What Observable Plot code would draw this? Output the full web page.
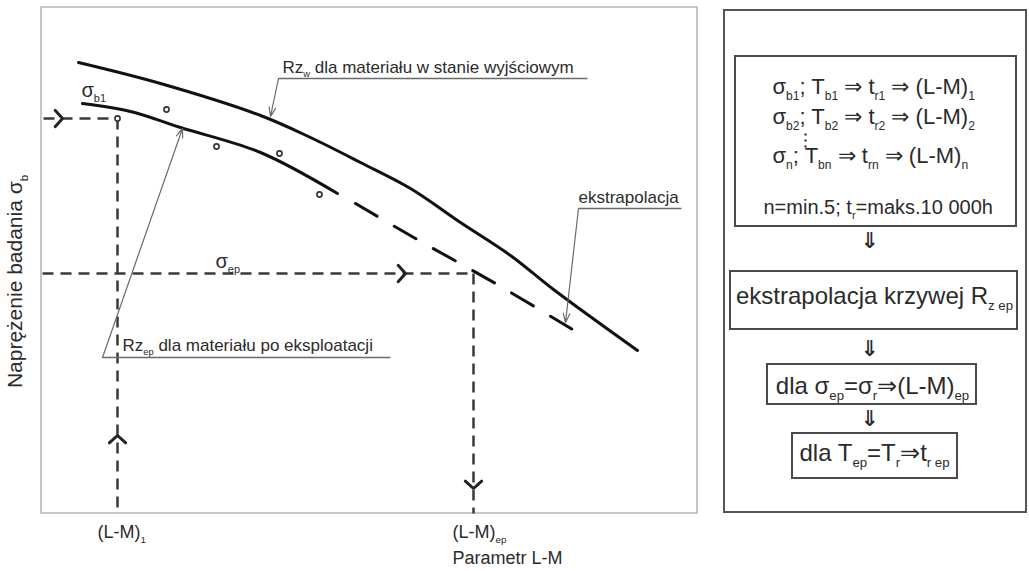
<!DOCTYPE html>
<html><head><meta charset="utf-8">
<script src="https://cdn.jsdelivr.net/npm/d3@7"></script>
<script src="https://cdn.jsdelivr.net/npm/@observablehq/plot@0.6"></script>
<style>body{margin:0;background:#fff;} svg text{white-space:pre;}</style>
</head><body><div id="chart"></div>
<script>
// ---- data (schematic coordinates; x = L-M parameter, y = stress, both in drawing units) ----
const curveInitial = [[78,62],[160,83],[260,115],[310,137],[360,162],[410,188],[460,222],[510,255],[553,289],[637,350]];
const curveAfterFit = [[82,103],[130,111],[180,127],[260,152],[337,193]];
const curveAfterExtrap = [[355,203],[415,238],[495,283],[572,329]];
const testPoints = [[117,118],[166,109],[216,146],[279,153],[319,194]];

const guideLines = [
  {x1:43, y1:118, x2:117, y2:118},
  {x1:117, y1:118, x2:117, y2:513},
  {x1:42, y1:273, x2:473, y2:273},
  {x1:473, y1:273, x2:473, y2:513}
];
const chevronTips = [
  {x:62, y:118, dx:1, dy:0},
  {x:117, y:435, dx:0, dy:-1},
  {x:405, y:273, dx:1, dy:0},
  {x:473, y:488, dx:0, dy:1}
];

const annotationTexts = [
  {x:282, y:72, text:"Rz_{w} dla materiału w stanie wyjściowym"},
  {x:578, y:202, text:"ekstrapolacja"},
  {x:122, y:350, text:"Rz_{ep} dla materiału po eksploatacji"}
];
const annotationUnderlines = [
  {x1:278, x2:587, y:78},
  {x1:578, x2:681, y:208},
  {x1:102, x2:390, y:357}
];
const leaderLines = [
  {x1:278, y1:78, x2:270, y2:116},
  {x1:578, y1:208, x2:565, y2:322},
  {x1:102, y1:357, x2:182, y2:128}
];
const stressLabels = [
  {x:81, y:96, text:"σ_{b1}"},
  {x:215, y:267, text:"σ_{ep}"}
];
const axisLabelsX = [
  {x:97, y:537, text:"(L-M)_{1}"},
  {x:452, y:537, text:"(L-M)_{ep}"},
  {x:452, y:563, text:"Parametr L-M"}
];
const axisLabelY = [{x:15, y:281, text:"Naprężenie badania σ_{b}"}];

const chartFrame = [{x1:41, x2:697, y1:7, y2:513}];
const panelFrame = [{x1:724, x2:1026, y1:10, y2:512}];
const flowBoxes = [
  {x1:735, x2:1016, y1:56, y2:226},
  {x1:730, x2:1017, y1:271, y2:329},
  {x1:767, x2:976, y1:364, y2:404},
  {x1:792, x2:957, y1:433, y2:478}
];
const flowLines = [
  {x:772, y:93, text:"σ_{b1}; T_{b1} ⇒ t_{r1} ⇒ (L-M)_{1}"},
  {x:772, y:123, text:"σ_{b2}; T_{b2} ⇒ t_{r2} ⇒ (L-M)_{2}"},
  {x:772, y:162, text:"σ_{n}; T_{bn} ⇒ t_{rn} ⇒ (L-M)_{n}"}
];
const flowNote = [{x:763, y:213, text:"n=min.5; t_{r}=maks.10 000h"}];
const flowEllipsis = [{x:805, y:134}, {x:805, y:140}, {x:805, y:146}];
const flowSteps = [
  {x:874, y:303, text:"ekstrapolacja krzywej R_{z ep}"},
  {x:872, y:393, text:"dla σ_{ep}=σ_{r}⇒(L-M)_{ep}"},
  {x:874, y:460, text:"dla T_{ep}=T_{r}⇒t_{r ep}"}
];
const flowArrows = [{x:869, y:240}, {x:869, y:348}, {x:869, y:418}];

// ---- helpers ----
const FONT = "'Liberation Sans', Arial, Helvetica, sans-serif";
const TXT = "#2b2b2b";
const toXY = a => a.map(([x, y]) => ({x, y}));
function chevronPoints(list, len = 11, deg = 48) {
  const out = [], th = deg * Math.PI / 180;
  list.forEach((c, i) => {
    const px = -c.dy, py = c.dx;
    const bx = c.x - len * Math.cos(th) * c.dx, by = c.y - len * Math.cos(th) * c.dy;
    out.push({id:i, x:bx + len * Math.sin(th) * px, y:by + len * Math.sin(th) * py});
    out.push({id:i, x:c.x, y:c.y});
    out.push({id:i, x:bx - len * Math.sin(th) * px, y:by - len * Math.sin(th) * py});
  });
  return out;
}

const plot = Plot.plot({
  width: 1029, height: 571, margin: 0,
  x: {domain: [0, 1029], axis: null},
  y: {domain: [0, 571], reverse: true, axis: null},
  style: {background: "#fff", overflow: "visible"},
  marks: [
    Plot.rect(chartFrame, {x1:"x1", x2:"x2", y1:"y1", y2:"y2", fill:"none", stroke:"#c6c6c6", strokeWidth:2}),
    Plot.rect(panelFrame, {x1:"x1", x2:"x2", y1:"y1", y2:"y2", fill:"none", stroke:"#555", strokeWidth:2}),
    Plot.rect(flowBoxes, {x1:"x1", x2:"x2", y1:"y1", y2:"y2", fill:"none", stroke:"#4a4a4a", strokeWidth:2}),
    Plot.link(guideLines, {x1:"x1", y1:"y1", x2:"x2", y2:"y2", stroke:"#3a3a3a", strokeWidth:2.5, strokeDasharray:"11,7"}),
    Plot.line(chevronPoints(chevronTips), {x:"x", y:"y", z:"id", stroke:"#222", strokeWidth:3, strokeLinejoin:"miter"}),
    Plot.line(toXY(curveInitial), {x:"x", y:"y", curve:"catmull-rom", stroke:"#111", strokeWidth:3}),
    Plot.line(toXY(curveAfterFit), {x:"x", y:"y", curve:"catmull-rom", stroke:"#111", strokeWidth:3}),
    Plot.line(toXY(curveAfterExtrap), {x:"x", y:"y", curve:"catmull-rom", stroke:"#111", strokeWidth:3, strokeDasharray:"25,20"}),
    Plot.dot(toXY(testPoints), {x:"x", y:"y", r:2.6, stroke:"#333", strokeWidth:1.6, fill:"#fff"}),
    Plot.dot(flowEllipsis, {x:"x", y:"y", r:1.2, fill:"#444", stroke:null}),
    Plot.link(annotationUnderlines, {x1:"x1", x2:"x2", y1:"y", y2:"y", stroke:"#6a6a6a", strokeWidth:1.5}),
    Plot.arrow(leaderLines, {x1:"x1", y1:"y1", x2:"x2", y2:"y2", stroke:"#6a6a6a", strokeWidth:1.2, headLength:12, headAngle:40}),
    Plot.text(annotationTexts, {x:"x", y:"y", text:"text", textAnchor:"start", lineAnchor:"bottom", fontSize:17, fontFamily:FONT, fill:TXT}),
    Plot.text(stressLabels, {x:"x", y:"y", text:"text", textAnchor:"start", lineAnchor:"bottom", fontSize:20, fontFamily:FONT, fill:TXT}),
    Plot.text(axisLabelsX, {x:"x", y:"y", text:"text", textAnchor:"start", lineAnchor:"bottom", fontSize:18, fontFamily:FONT, fill:TXT}),
    Plot.text(axisLabelY, {x:"x", y:"y", text:"text", rotate:-90, textAnchor:"middle", lineAnchor:"middle", fontSize:21, fontFamily:FONT, fill:TXT}),
    Plot.text(flowLines, {x:"x", y:"y", text:"text", textAnchor:"start", lineAnchor:"bottom", fontSize:22, fontFamily:FONT, fill:TXT}),
    Plot.text(flowNote, {x:"x", y:"y", text:"text", textAnchor:"start", lineAnchor:"bottom", fontSize:20, fontFamily:FONT, fill:TXT}),
    Plot.text(flowSteps, {x:"x", y:"y", text:"text", textAnchor:"middle", lineAnchor:"bottom", fontSize:24, fontFamily:FONT, fill:TXT}),
    Plot.text(flowArrows, {x:"x", y:"y", text:() => "⇓", textAnchor:"middle", lineAnchor:"middle", fontSize:22, fontWeight:"bold", fontFamily:"'DejaVu Sans', sans-serif", fill:TXT})
  ]
});
document.getElementById("chart").appendChild(plot);

// subscripts: turn "a_{b}" into tspans
d3.select(plot).selectAll("text").each(function () {
  const s = this.textContent;
  if (!s.includes("_{")) return;
  const fs = parseFloat(getComputedStyle(this).fontSize) || 16;
  const shift = fs * 0.28;
  const parts = s.split(/_\{([^}]*)\}/);
  this.textContent = "";
  const sel = d3.select(this);
  let down = false;
  parts.forEach((p, i) => {
    if (!p) return;
    const t = sel.append("tspan").text(p);
    if (i % 2 === 1) {
      t.attr("font-size", fs * 0.55);
      if (!down) t.attr("dy", shift);
      down = true;
    } else {
      if (down) t.attr("dy", -shift);
      down = false;
    }
  });
});
</script></body></html>
